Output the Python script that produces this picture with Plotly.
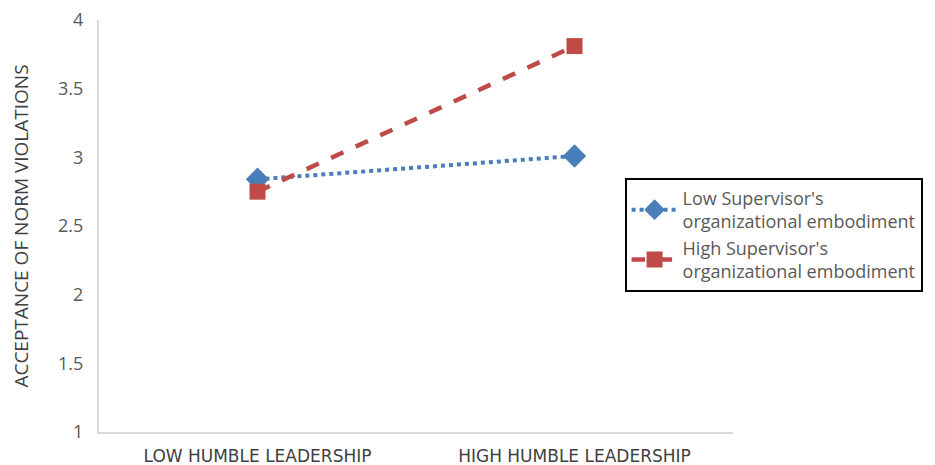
import plotly.graph_objects as go

# categories and series values
categories = ["LOW HUMBLE LEADERSHIP", "HIGH HUMBLE LEADERSHIP"]
low_embodiment = [2.84, 3.01]
high_embodiment = [2.75, 3.81]
series_names = [
    "Low Supervisor's<br>organizational embodiment",
    "High Supervisor's<br>organizational embodiment",
]
y_ticks = [1, 1.5, 2, 2.5, 3, 3.5, 4]

fig = go.Figure()

fig.add_trace(go.Scatter(
    x=categories, y=low_embodiment, name=series_names[0],
    mode="lines+markers",
    line=dict(color="#4a7ebb", width=4, dash="dot"),
    marker=dict(symbol="diamond", size=18, color="#4a7ebb"),
))
fig.add_trace(go.Scatter(
    x=categories, y=high_embodiment, name=series_names[1],
    mode="lines+markers",
    line=dict(color="#be4b48", width=4.5, dash="dash"),
    marker=dict(symbol="square", size=16, color="#be4b48"),
))

# page body has an 8px margin, so the figure is a bit smaller than the window
fig.update_layout(
    width=927, height=457,
    margin=dict(l=91, r=199, t=12, b=33),
    paper_bgcolor="white", plot_bgcolor="white",
    font=dict(family="Open Sans, Liberation Sans", color="#595959"),
    legend=dict(
        x=0.829, y=0.617, xanchor="left", yanchor="top",
        bordercolor="black", borderwidth=2,
        font=dict(size=18, color="#595959"),
        itemwidth=46, tracegroupgap=2,
    ),
)

fig.update_xaxes(
    type="category", range=[-0.5, 1.5], automargin=False,
    showline=True, linecolor="#d9d9d9", linewidth=2,
    showgrid=False, ticks="", ticklabelstandoff=8,
    ticklabeloverflow="allow",
    tickfont=dict(family="DejaVu Sans", size=17, color="#404040"),
)
fig.update_yaxes(
    range=[1, 4], tickvals=y_ticks, ticktext=[f"{v:g}" for v in y_ticks],
    automargin=False, ticklabeloverflow="allow",
    showline=True, linecolor="#d9d9d9", linewidth=2,
    showgrid=False, zeroline=False, ticks="", ticklabelstandoff=10,
    tickfont=dict(size=18, color="#595959"),
    title=dict(text="ACCEPTANCE OF NORM VIOLATIONS", standoff=42,
               font=dict(size=19, color="#404040")),
)

fig.write_html("out.html")
